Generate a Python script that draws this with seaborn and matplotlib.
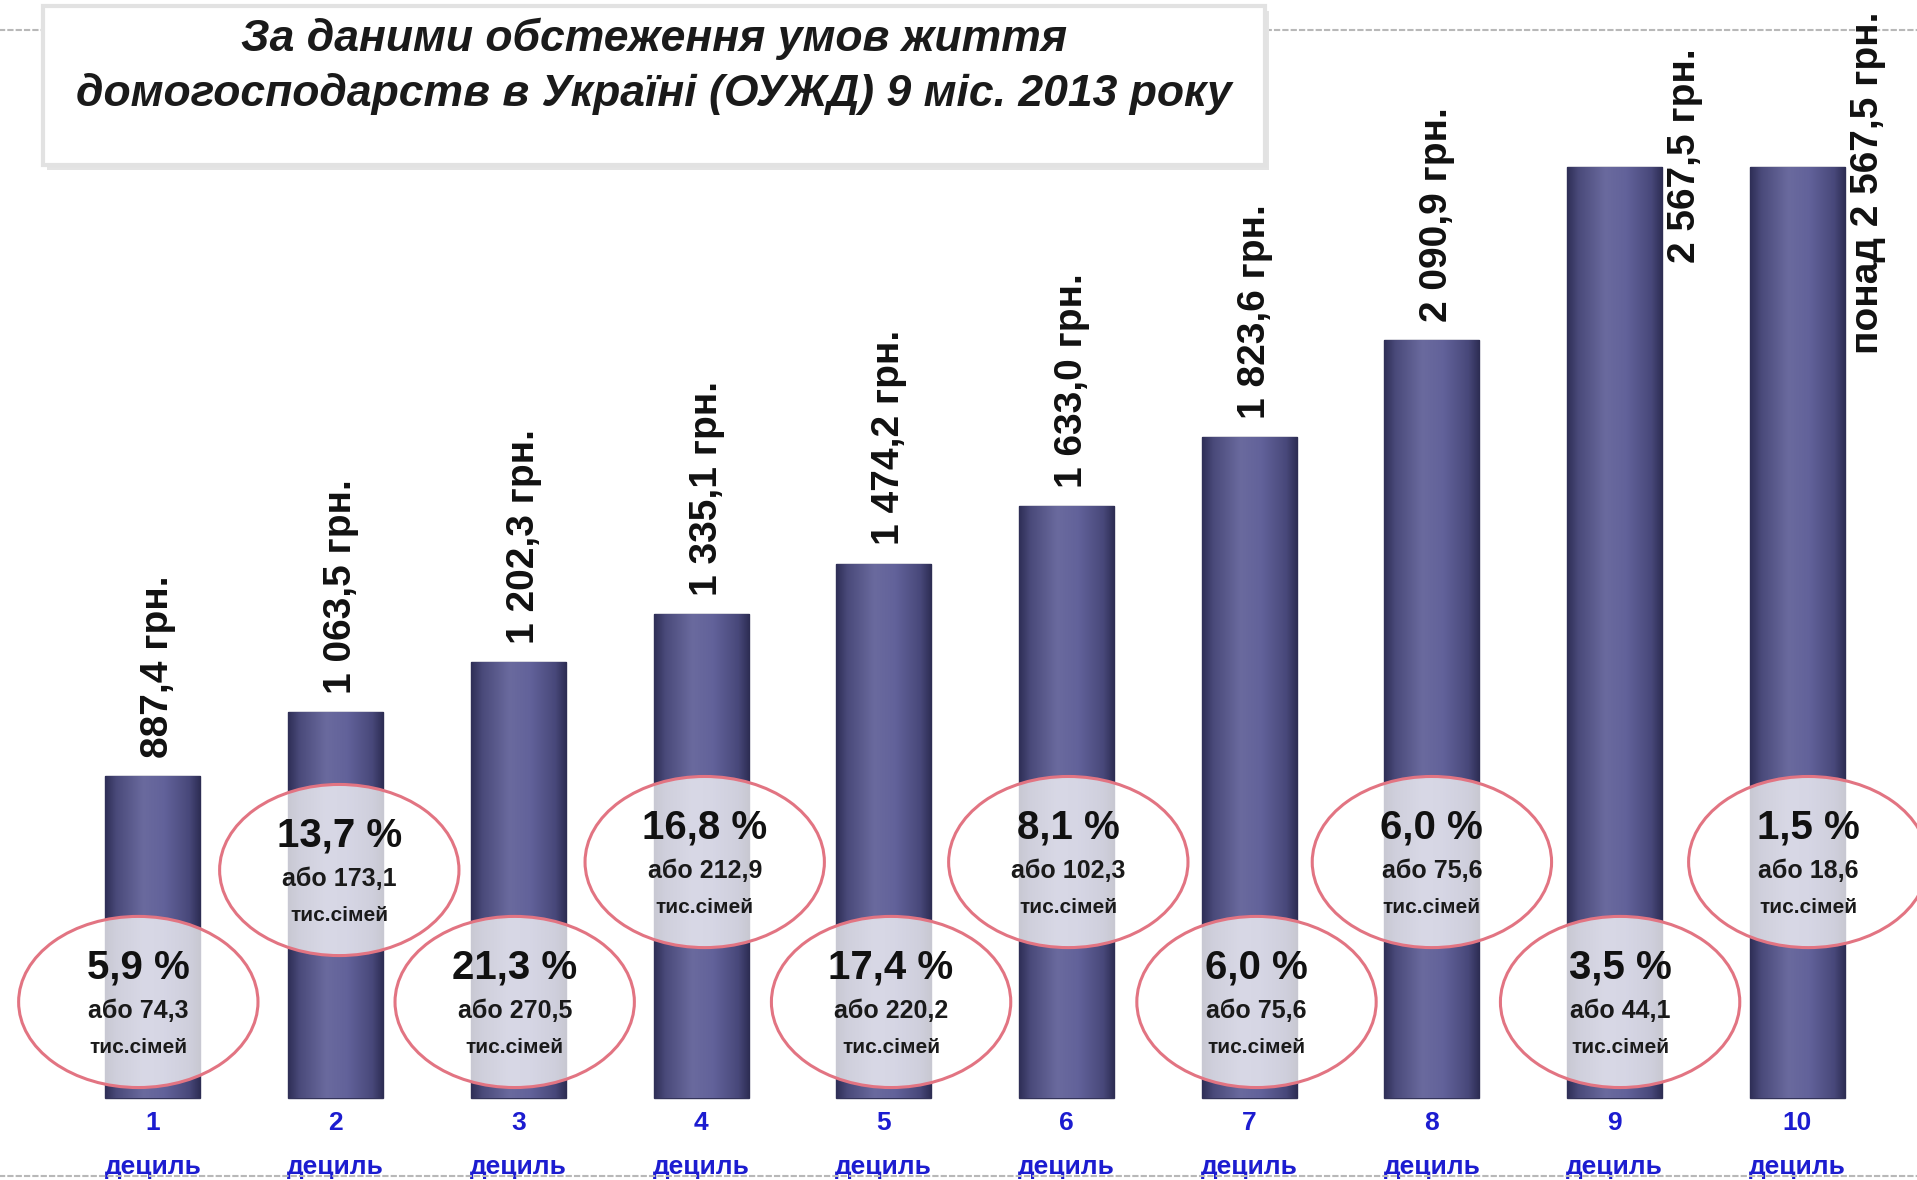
import numpy as np
import pandas as pd
import matplotlib
matplotlib.use("Agg")
import matplotlib.pyplot as plt
import seaborn as sns
from matplotlib.patches import Ellipse, Rectangle
from matplotlib.colors import LinearSegmentedColormap

# ---------------- data ----------------
deciles = ["1", "2", "3", "4", "5", "6", "7", "8", "9", "10"]
income = [887.4, 1063.5, 1202.3, 1335.1, 1474.2, 1633.0, 1823.6, 2090.9, 2567.5, 2567.5]
income_labels = ["887,4 грн.", "1 063,5 грн.", "1 202,3 грн.", "1 335,1 грн.",
                 "1 474,2 грн.", "1 633,0 грн.", "1 823,6 грн.", "2 090,9 грн.",
                 "2 567,5 грн.", "понад 2 567,5 грн."]
share_pct = [5.9, 13.7, 21.3, 16.8, 17.4, 8.1, 6.0, 6.0, 3.5, 1.5]
families_k = [74.3, 173.1, 270.5, 212.9, 220.2, 102.3, 75.6, 75.6, 44.1, 18.6]
title_lines = ["За даними обстеження умов життя",
               "домогосподарств в Україні (ОУЖД) 9 міс. 2013 року"]
tick_word = "дециль"

df = pd.DataFrame({"decile": deciles, "income": income})

# ---------------- style ----------------
sns.set_theme(style="white")
plt.rcParams["font.family"] = ["Liberation Sans", "DejaVu Sans"]

W, H, DPI = 1917, 1180, 100
fig = plt.figure(figsize=(W / DPI, H / DPI), dpi=DPI)
fig.patch.set_facecolor("white")
ax_top_px, ax_bot_px = 30, 1176
ax = fig.add_axes([0, (H - ax_bot_px) / H, 1, (ax_bot_px - ax_top_px) / H])

sns.barplot(data=df, x="decile", y="income", order=deciles, color="#5a5a8a",
            width=0.52, ax=ax, edgecolor="#34345a", linewidth=1.0, zorder=2)

xlim = (-0.837, 9.655)
ylim = (-215, 2946)

# cylinder-like shading on each bar
cmap = LinearSegmentedColormap.from_list(
    "cyl", [(0.0, "#2e2e56"), (0.12, "#4a4a7a"), (0.4, "#6a6a9e"),
            (0.62, "#62629a"), (0.88, "#48487a"), (1.0, "#2c2c52")])
grad = np.linspace(0, 1, 256).reshape(1, -1)
for p in list(ax.patches):
    x0, w = p.get_x(), p.get_width()
    y0, h = p.get_y(), p.get_height()
    im = ax.imshow(grad, extent=[x0, x0 + w, y0, y0 + h], aspect="auto",
                   cmap=cmap, zorder=2.1, interpolation="bicubic")
    im.set_clip_path(p)

ax.set_xlim(*xlim)
ax.set_ylim(*ylim)
ax.set_aspect("auto")

# value labels (rotated)
for i, lab in enumerate(income_labels):
    if i < 8:
        ax.text(i + 0.03, income[i] + 50, lab, rotation=90, ha="center", va="bottom",
                fontsize=28, fontweight="bold", color="#111111", zorder=7)
    else:
        top_y = [2894, 2996][i - 8]
        ax.text(i + 0.385, top_y, lab, rotation=90, ha="center", va="top",
                fontsize=28, fontweight="bold", color="#111111", zorder=7, clip_on=False)

# circles with share of families
upper_y, lower_y = 651, 265
circle_w, circle_h = 1.31, 472
circle_dx = [-0.08, 0.02, -0.02, 0.02, 0.04, 0.01, 0.04, 0.0, 0.03, 0.06]
for i in range(len(deciles)):
    cy = lower_y if i % 2 == 0 else (upper_y - 22 if i == 1 else upper_y)
    cx = i + circle_dx[i]
    ax.add_patch(Ellipse((cx, cy), circle_w, circle_h, facecolor=(1, 1, 1, 0.74),
                         edgecolor="#e27482", lw=2.2, zorder=5))
    pct = f"{share_pct[i]:.1f}".replace(".", ",") + " %"
    fam = "або " + f"{families_k[i]:.1f}".replace(".", ",")
    ax.text(cx, cy + 96, pct, ha="center", va="center", fontsize=29,
            fontweight="bold", color="#111111", zorder=6)
    ax.text(cx, cy - 24, fam, ha="center", va="center", fontsize=18,
            fontweight="bold", color="#1a1a1a", zorder=6)
    ax.text(cx, cy - 125, "тис.сімей", ha="center", va="center", fontsize=15,
            fontweight="bold", color="#1a1a1a", zorder=6)

# x tick labels
ax.set_xticks(range(len(deciles)))
ax.set_xticklabels([f"{d}\n{tick_word}" for d in deciles], color="#1c1cd0",
                   fontweight="bold", fontsize=19, linespacing=2.05)
label_top_px = 1111
ax.tick_params(axis="x", length=0, pad=-(ax_bot_px - label_top_px) * 72 / DPI)
for t in ax.get_xticklabels():
    t.set_clip_on(False)
ax.set_yticks([])
ax.set_xlabel("")
ax.set_ylabel("")
for s in ["left", "right"]:
    ax.spines[s].set_visible(False)
for s in ["top", "bottom"]:
    ax.spines[s].set_visible(True)
    ax.spines[s].set_linestyle((0, (2, 2)))
    ax.spines[s].set_color("#b8b8b8")
    ax.spines[s].set_linewidth(1.5)

# title box
bx0, by0, bx1, by1 = 43, 6, 1265, 165
fig.add_artist(Rectangle(((bx0 + 4) / W, 1 - (by1 + 5) / H), (bx1 - bx0) / W, (by1 - by0) / H,
                         transform=fig.transFigure, facecolor="#e4e4e4", edgecolor="none", zorder=9))
fig.add_artist(Rectangle((bx0 / W, 1 - by1 / H), (bx1 - bx0) / W, (by1 - by0) / H,
                         transform=fig.transFigure, facecolor="white", edgecolor="#e2e2e2",
                         lw=3, zorder=10))
for k, (line, ypx) in enumerate(zip(title_lines, [39, 94])):
    fig.text(654 / W, 1 - ypx / H, line, ha="center", va="center", fontsize=32,
             fontweight="bold", fontstyle="italic", color="#1a1a1a", zorder=11)

fig.savefig("out.png", dpi=DPI, facecolor="white")
